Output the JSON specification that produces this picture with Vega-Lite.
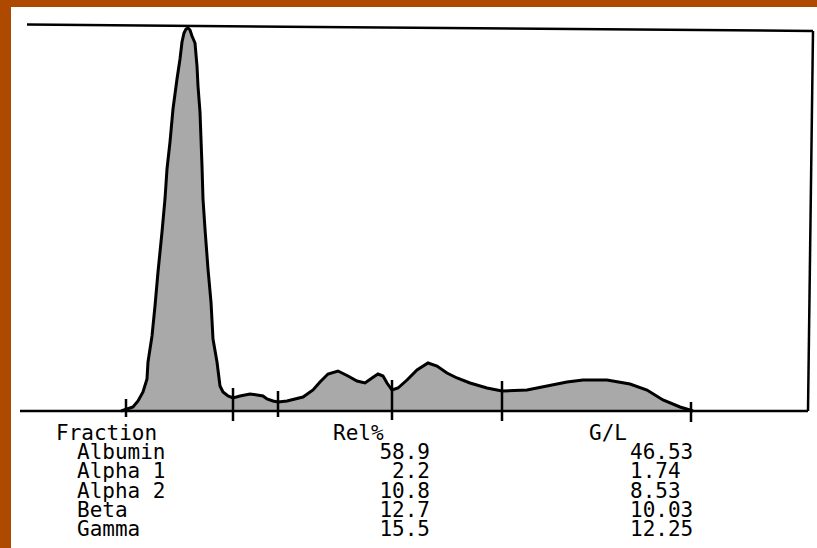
{
  "$schema": "https://vega.github.io/schema/vega-lite/v6.json",
  "autosize": {"type": "fit", "contains": "padding"},
  "width": 817,
  "height": 548,
  "padding": {"left": 11, "top": 7, "right": 0, "bottom": 0},
  "background": "#AD4A00",
  "config": {"view": {"fill": "white", "stroke": null}},
  "datasets": {
    "curve": [
      {"pos": 121, "h": 0}, {"pos": 127, "h": 2}, {"pos": 133, "h": 4}, {"pos": 138, "h": 10},
      {"pos": 143, "h": 19}, {"pos": 147, "h": 32}, {"pos": 148, "h": 49}, {"pos": 152, "h": 75},
      {"pos": 155, "h": 105}, {"pos": 158, "h": 139}, {"pos": 162, "h": 179}, {"pos": 165, "h": 212},
      {"pos": 167, "h": 242}, {"pos": 170, "h": 269}, {"pos": 173, "h": 302}, {"pos": 177, "h": 332},
      {"pos": 180, "h": 352}, {"pos": 182, "h": 369}, {"pos": 184, "h": 378}, {"pos": 186, "h": 382},
      {"pos": 188, "h": 383}, {"pos": 190, "h": 381}, {"pos": 192, "h": 375}, {"pos": 195, "h": 368},
      {"pos": 197, "h": 345}, {"pos": 198, "h": 325}, {"pos": 200, "h": 299}, {"pos": 201, "h": 272},
      {"pos": 202, "h": 245}, {"pos": 203, "h": 212}, {"pos": 205, "h": 182}, {"pos": 208, "h": 142},
      {"pos": 211, "h": 109}, {"pos": 213, "h": 72}, {"pos": 217, "h": 49}, {"pos": 220, "h": 25},
      {"pos": 223, "h": 19}, {"pos": 228, "h": 15}, {"pos": 233, "h": 13},
      {"pos": 240, "h": 15}, {"pos": 250, "h": 17}, {"pos": 257, "h": 16}, {"pos": 263, "h": 15},
      {"pos": 267, "h": 12}, {"pos": 273, "h": 10}, {"pos": 278, "h": 9}, {"pos": 287, "h": 10},
      {"pos": 295, "h": 12}, {"pos": 303, "h": 14}, {"pos": 313, "h": 21}, {"pos": 320, "h": 29},
      {"pos": 328, "h": 37}, {"pos": 338, "h": 40}, {"pos": 348, "h": 35}, {"pos": 357, "h": 30},
      {"pos": 365, "h": 28}, {"pos": 372, "h": 33}, {"pos": 378, "h": 37}, {"pos": 383, "h": 35},
      {"pos": 387, "h": 28}, {"pos": 392, "h": 21}, {"pos": 398, "h": 23}, {"pos": 407, "h": 31},
      {"pos": 417, "h": 41}, {"pos": 428, "h": 48}, {"pos": 437, "h": 45}, {"pos": 447, "h": 38},
      {"pos": 457, "h": 33}, {"pos": 470, "h": 28}, {"pos": 487, "h": 23}, {"pos": 502, "h": 20},
      {"pos": 527, "h": 21}, {"pos": 547, "h": 25}, {"pos": 567, "h": 29}, {"pos": 583, "h": 31},
      {"pos": 607, "h": 31}, {"pos": 630, "h": 27}, {"pos": 647, "h": 21}, {"pos": 663, "h": 11},
      {"pos": 680, "h": 4}, {"pos": 690, "h": 1}, {"pos": 693, "h": 0}
    ],
    "ticks": [
      {"pos": 126, "top": 12, "bottom": -6},
      {"pos": 233, "top": 23, "bottom": -10},
      {"pos": 278, "top": 20, "bottom": -6},
      {"pos": 392, "top": 31, "bottom": -9},
      {"pos": 502, "top": 30, "bottom": -10},
      {"pos": 691, "top": 9, "bottom": -11}
    ],
    "frame": [
      {"x1": 27, "y1": 386.5, "x2": 813, "y2": 380},
      {"x1": 813, "y1": 380, "x2": 808, "y2": 0},
      {"x1": 20, "y1": 0, "x2": 808, "y2": 0}
    ],
    "headers": [{"col": "Fraction"}, {"col": "Rel%"}, {"col": "G/L"}],
    "table": [
      {"fraction": "Albumin", "rel": 58.9, "gl": 46.53},
      {"fraction": "Alpha 1", "rel": 2.2, "gl": 1.74},
      {"fraction": "Alpha 2", "rel": 10.8, "gl": 8.53},
      {"fraction": "Beta", "rel": 12.7, "gl": 10.03},
      {"fraction": "Gamma", "rel": 15.5, "gl": 12.25}
    ]
  },
  "layer": [
    {
      "encoding": {
        "x": {"field": "pos", "type": "quantitative", "scale": {"domain": [11, 817], "nice": false, "zero": false}, "axis": null},
        "y": {"field": "h", "type": "quantitative", "scale": {"domain": [-137, 404], "nice": false, "zero": false}, "axis": null}
      },
      "layer": [
        {
          "data": {"name": "curve"},
          "mark": {"type": "area", "fill": "#a9a9a9", "interpolate": "linear"}
        },
        {
          "data": {"name": "curve"},
          "mark": {"type": "line", "stroke": "black", "strokeWidth": 3, "strokeJoin": "miter"}
        },
        {
          "data": {"name": "ticks"},
          "mark": {"type": "rule", "stroke": "black", "strokeWidth": 2.5},
          "encoding": {
            "x": {"field": "pos", "type": "quantitative"},
            "y": {"field": "top", "type": "quantitative"},
            "y2": {"field": "bottom"}
          }
        },
        {
          "data": {"name": "frame"},
          "mark": {"type": "rule", "stroke": "black", "strokeWidth": 2.5},
          "encoding": {
            "x": {"field": "x1", "type": "quantitative"},
            "x2": {"field": "x2"},
            "y": {"field": "y1", "type": "quantitative"},
            "y2": {"field": "y2"}
          }
        }
      ]
    },
    {
      "layer": [
        {
          "data": {"name": "headers"},
          "transform": [{"filter": "datum.col !== 'Rel%'"}],
          "mark": {"type": "text", "align": "left", "baseline": "alphabetic", "font": "DejaVu Sans Mono", "fontSize": 21, "color": "black"},
          "encoding": {
            "x": {"field": "col", "type": "nominal", "scale": {"type": "point", "domain": ["Fraction", "Rel%", "G/L"], "range": [45, 578], "padding": 0}, "axis": null},
            "y": {"datum": "header", "type": "nominal", "scale": {"type": "point", "domain": ["header", "Albumin", "Alpha 1", "Alpha 2", "Beta", "Gamma"], "range": [433, 529], "padding": 0}, "axis": null},
            "text": {"field": "col"}
          }
        },
        {
          "data": {"name": "headers"},
          "transform": [{"filter": "datum.col === 'Rel%'"}],
          "mark": {"type": "text", "align": "left", "baseline": "alphabetic", "font": "DejaVu Sans Mono", "fontSize": 21, "color": "black", "dx": 10.5},
          "encoding": {
            "x": {"field": "col", "type": "nominal"},
            "y": {"datum": "header", "type": "nominal"},
            "text": {"field": "col"}
          }
        },
        {
          "data": {"name": "table"},
          "mark": {"type": "text", "align": "left", "baseline": "alphabetic", "font": "DejaVu Sans Mono", "fontSize": 21, "color": "black", "dx": 21},
          "encoding": {
            "x": {"datum": "Fraction", "type": "nominal"},
            "y": {"field": "fraction", "type": "nominal"},
            "text": {"field": "fraction"}
          }
        },
        {
          "data": {"name": "table"},
          "mark": {"type": "text", "align": "right", "baseline": "alphabetic", "font": "DejaVu Sans Mono", "fontSize": 21, "color": "black", "dx": 107.5},
          "encoding": {
            "x": {"datum": "Rel%", "type": "nominal"},
            "y": {"field": "fraction", "type": "nominal"},
            "text": {"field": "rel", "format": ".1f"}
          }
        },
        {
          "data": {"name": "table"},
          "mark": {"type": "text", "align": "left", "baseline": "alphabetic", "font": "DejaVu Sans Mono", "fontSize": 21, "color": "black", "dx": 41},
          "encoding": {
            "x": {"datum": "G/L", "type": "nominal"},
            "y": {"field": "fraction", "type": "nominal"},
            "text": {"field": "gl", "format": ".2f"}
          }
        }
      ]
    }
  ],
  "resolve": {"scale": {"x": "independent", "y": "independent"}}
}
